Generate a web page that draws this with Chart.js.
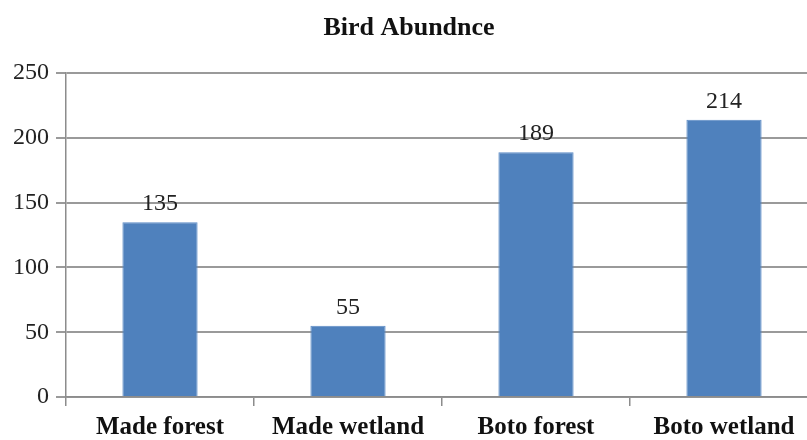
<!DOCTYPE html>
<html>
<head>
<meta charset="utf-8">
<script src="https://cdn.jsdelivr.net/npm/chart.js@4/dist/chart.umd.min.js"></script>
<style>
  html, body { margin: 0; padding: 0; background: #fff; overflow: hidden; }
  #wrap { width: 830px; height: 440px; position: relative; }
</style>
</head>
<body>
<div id="wrap"><canvas id="c"></canvas></div>
<script>
const categories = ['Made forest', 'Made wetland', 'Boto forest', 'Boto wetland'];
const abundance = [135, 55, 189, 214];
const yTicks = [0, 50, 100, 150, 200, 250];

const serif = '"Liberation Serif", "Times New Roman", serif';

// Writes each bar's value just above it
const valueLabels = {
  id: 'valueLabels',
  afterDatasetsDraw(chart) {
    const ctx = chart.ctx;
    const meta = chart.getDatasetMeta(0);
    ctx.save();
    ctx.font = '24px ' + serif;
    ctx.fillStyle = '#222';
    ctx.textAlign = 'center';
    ctx.textBaseline = 'alphabetic';
    meta.data.forEach((bar, i) => {
      ctx.fillText(String(abundance[i]), bar.x, bar.y - 12);
    });
    ctx.restore();
  }
};

new Chart(document.getElementById('c'), {
  type: 'bar',
  data: {
    labels: categories,
    datasets: [{
      data: abundance,
      backgroundColor: '#4F81BD',
      borderColor: '#5B8BC6',
      borderWidth: 1,
      categoryPercentage: 1,
      barPercentage: 0.4
    }]
  },
  options: {
    responsive: true,
    maintainAspectRatio: false,
    animation: false,
    layout: { padding: { left: 0, right: 12, top: 0, bottom: 0 } },
    plugins: {
      legend: { display: false },
      tooltip: { enabled: false },
      title: {
        display: true,
        text: 'Bird Abundnce',
        color: '#111',
        font: { family: serif, size: 26, weight: 'bold' },
        padding: { top: 13, bottom: 29 }
      }
    },
    scales: {
      x: {
        grid: { drawOnChartArea: false, drawTicks: true, tickLength: 9, color: '#8c8c8c', lineWidth: 1.5 },
        border: { color: '#8c8c8c', width: 1.5 },
        ticks: { color: '#111', font: { family: serif, size: 25, weight: 'bold' }, padding: 7, maxRotation: 0 },
        afterFit(scale) { scale.height = 43; }
      },
      y: {
        min: 0,
        max: 250,
        afterBuildTicks(scale) { scale.ticks = yTicks.map(v => ({ value: v })); },
        grid: { color: '#9a9a9a', lineWidth: 2, drawTicks: true, tickLength: 10 },
        border: { color: '#8c8c8c', width: 1.5 },
        ticks: { color: '#222', font: { family: serif, size: 24 }, padding: 7 },
        afterFit(scale) { scale.width = 66; }
      }
    }
  },
  plugins: [valueLabels]
});
</script>
</body>
</html>
